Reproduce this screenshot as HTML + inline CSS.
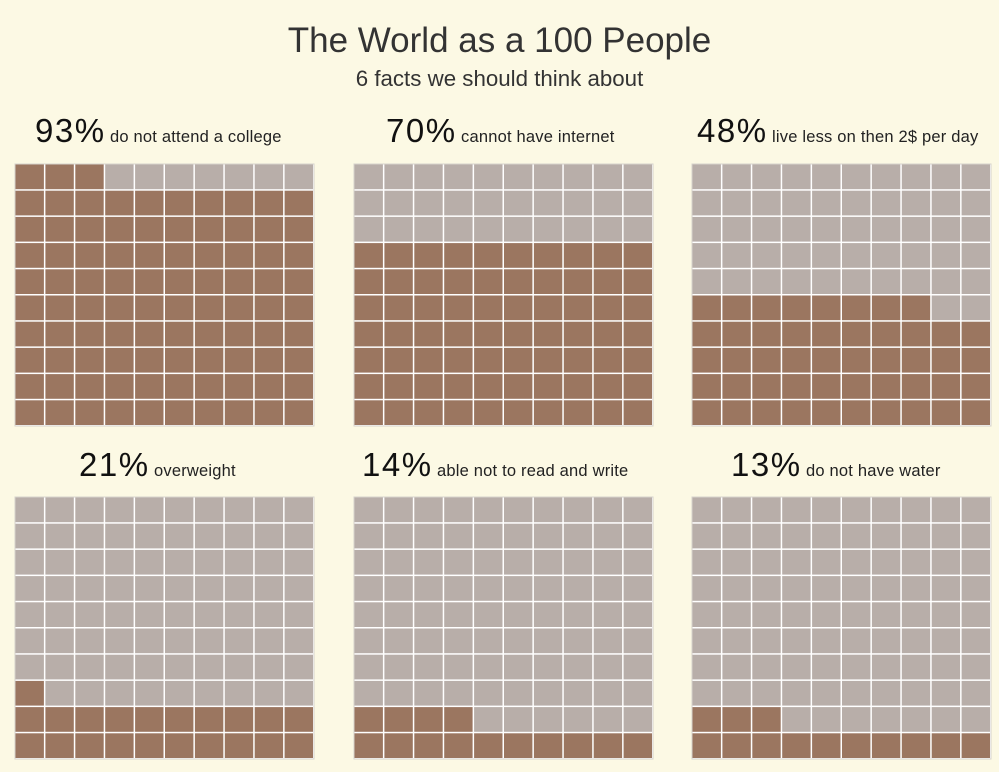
<!DOCTYPE html>
<html><head><meta charset="utf-8"><style>
body{margin:0;width:999px;height:772px;background:#fcf9e4;font-family:"Liberation Sans",sans-serif;position:relative;overflow:hidden}
.t{position:absolute;left:0;width:999px;text-align:center;color:#333}
.l{position:absolute;white-space:nowrap;color:#111}
.l b{font-weight:normal;font-size:33px;letter-spacing:1.5px}
.l span{font-size:16.5px;color:#222;letter-spacing:0.2px}
</style></head><body>
<div class="t" style="top:21px;font-size:35px">The World as a 100 People</div>
<div class="t" style="top:66px;font-size:22.3px">6 facts we should think about</div>
<div class="l" style="left:35px;top:112px"><b>93%</b> <span>do not attend a college</span></div>
<div class="l" style="left:386px;top:112px"><b>70%</b> <span>cannot have internet</span></div>
<div class="l" style="left:697px;top:112px"><b>48%</b> <span>live less on then 2$ per day</span></div>
<div class="l" style="left:79px;top:446px"><b>21%</b> <span>overweight</span></div>
<div class="l" style="left:362px;top:446px"><b>14%</b> <span>able not to read and write</span></div>
<div class="l" style="left:731px;top:446px"><b>13%</b> <span>do not have water</span></div>
<svg id="s" width="999" height="772" style="position:absolute;left:0;top:0"></svg>
<script>
var g=[[15,164,93],[354,164,70],[692,164,48],[15,497,21],[354,497,14],[692,497,13]];
var h='';
g.forEach(function(a){
 var x0=a[0],y0=a[1],p=a[2],w=29.9,ht=26.2;
 h+='<rect x="'+(x0-0.5)+'" y="'+(y0-0.5)+'" width="300" height="263" fill="#d6d2cc"/>';
 h+='<rect x="'+(x0+0.5)+'" y="'+(y0+0.5)+'" width="298" height="261" fill="#ffffff"/>';
 for(var r=0;r<10;r++)for(var c=0;c<10;c++){
  var idx=(9-r)*10+c; var f=idx<p;
  h+='<rect x="'+(x0+c*w+0.5)+'" y="'+(y0+r*ht+0.5)+'" width="'+(w-1.5)+'" height="'+(ht-1.5)+'" fill="'+(f?'#9b7660':'#b8aea9')+'"/>';
 }
});
document.getElementById('s').innerHTML=h;
</script>
</body></html>
